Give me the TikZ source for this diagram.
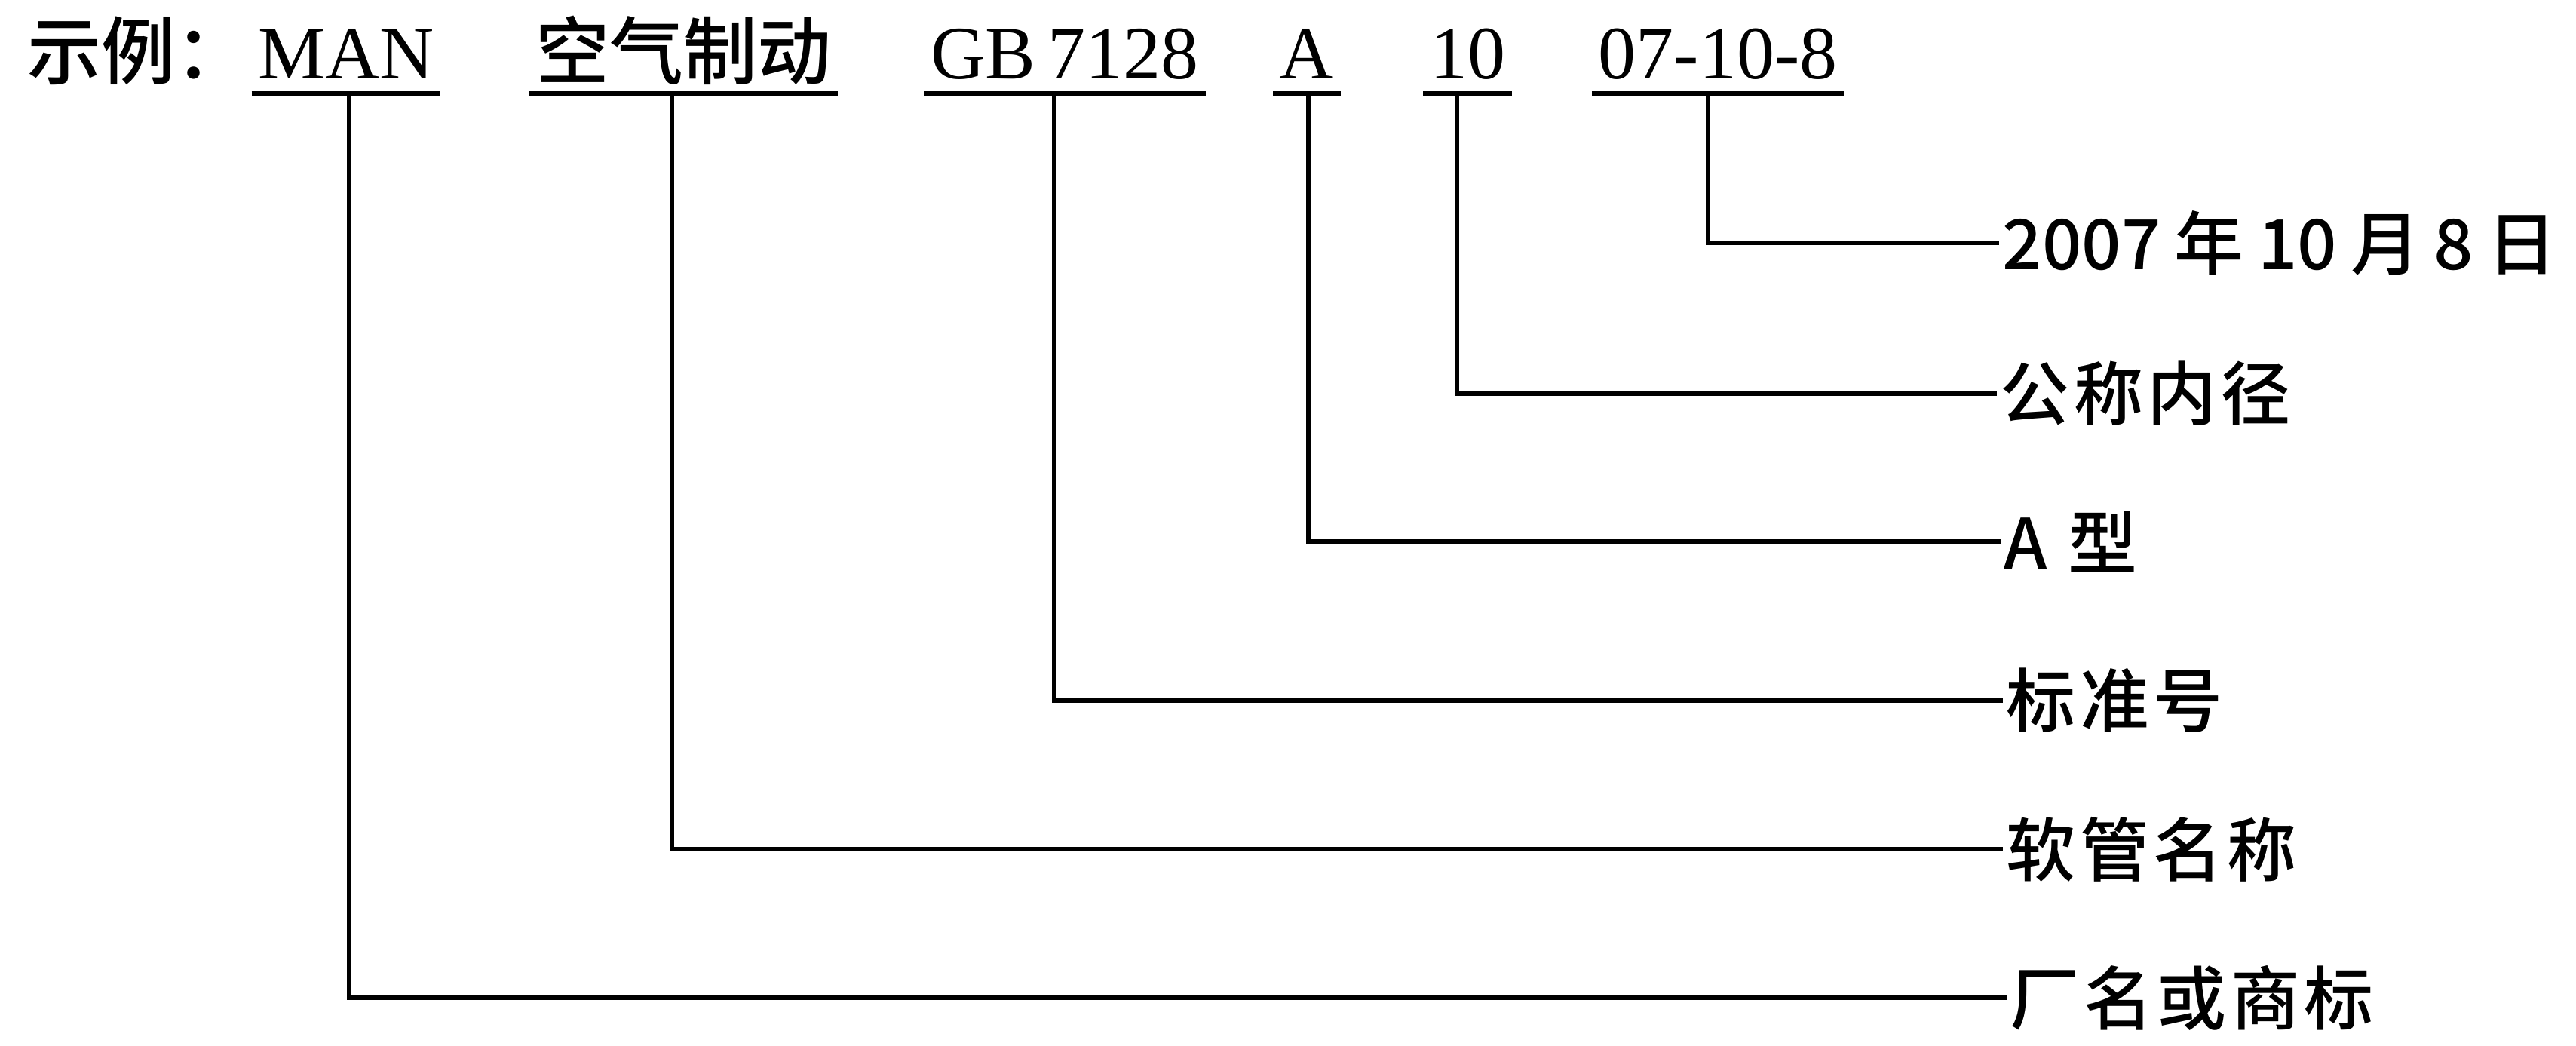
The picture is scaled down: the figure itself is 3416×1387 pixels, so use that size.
\documentclass[tikz,border=0pt]{standalone}
\usepackage{fontspec}
\setmainfont{Liberation Serif}
\newfontfamily\cjk{Noto Sans CJK SC}[BoldFont={Noto Sans CJK SC Medium}]
\newfontfamily\cjklab{Noto Sans CJK SC Medium}[LetterSpace=6]
\begin{document}
\begin{tikzpicture}[x=0.25pt,y=-0.25pt,
  top/.style={inner sep=0pt, anchor=base, font=\fontsize{25}{30}\selectfont},
  topcjk/.style={top, font=\fontsize{24.5}{30}\selectfont\cjk\bfseries},
  lab/.style={inner sep=0pt, anchor=west, font=\fontsize{23}{28}\selectfont\cjklab},
  datelab/.style={lab, font=\fontsize{23}{28}\selectfont\cjk\bfseries},
  uline/.style={line width=1.6pt},
  leader/.style={line width=1.3pt}]
\useasboundingbox (0,0) rectangle (3416,1387);
\coordinate (ulY) at (0,124);
% top row
\node[topcjk, anchor=base west] (ex) at (36,105) {示例：};
\node[top] (man) at (459,105) {MAN};
\node[topcjk] (kq) at (906,105) {空气制动};
\node[top] (gb) at (1412,105) {GB\,7128};
\node[top] (a) at (1733,105) {A};
\node[top] (ten) at (1946,105) {10};
\node[top] (date) at (2278,105) {07-10-8};
% underlines
\foreach \n in {man,kq,gb,a,ten,date}
  \draw[uline] ([xshift=-2pt]\n.west |- ulY) -- ([xshift=2pt]\n.east |- ulY);
% labels
\node[datelab] (l1) at (2655,322) {2007\hspace{0.2em}年\hspace{0.2em}10\hspace{0.2em}月\hspace{0.2em}8\hspace{0.2em}日};
\node[lab] (l2) at (2652,522) {公称内径};
\node[lab] (l3) at (2657,718) {A\hspace{0.3em}型};
\node[lab] (l4) at (2660,929) {标准号};
\node[lab] (l5) at (2660,1126) {软管名称};
\node[lab] (l6) at (2665,1323) {厂名或商标};
% leader start points
\coordinate (p1) at (2265,124);
\coordinate (p2) at (1932,124);
\coordinate (p3) at (1735,124);
\coordinate (p4) at (1398,124);
\coordinate (p5) at (891,124);
\coordinate (p6) at (463,124);
\foreach \i in {1,...,6}
  \draw[leader] (p\i) |- ([xshift=-1pt]l\i.west);
\end{tikzpicture}
\end{document}
